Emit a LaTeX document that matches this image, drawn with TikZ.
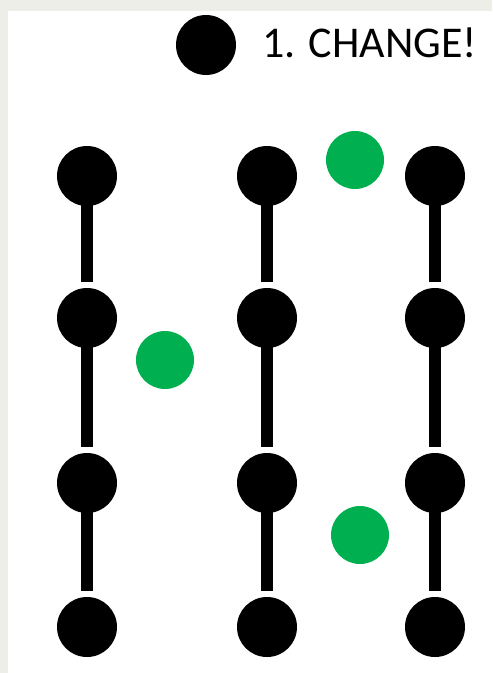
\documentclass[tikz,border=0pt]{standalone}
\usepackage{fontspec}
\setmainfont{Carlito}
\begin{document}
\begin{tikzpicture}[
  x=0.03cm,y=-0.03cm,
  dot/.style={circle,fill=black,inner sep=0pt,outer sep=0pt,minimum size=1.8cm},
  mover/.style={dot,fill=changegreen,minimum size=1.74cm},
  link/.style={line width=0.36cm,black,shorten >=0.18cm}
]
  \definecolor{changegreen}{RGB}{0,176,80}
  \definecolor{frame}{RGB}{238,238,233}
  \fill[frame] (0,0) rectangle (492,673);
  \fill[white] (8,11) rectangle (492,673);

  % legend
  \node[dot] (key) at (206,45) {};
  \node[anchor=west,inner sep=0pt,font=\fontsize{37.5}{40}\selectfont] (keytext) at (262,43) {1. CHANGE!};

  % columns of dots
  \foreach \c/\x in {a/87,b/267,c/435}{
    \node[dot] (\c1) at (\x,176) {};
    \node[dot] (\c2) at (\x,318) {};
    \node[dot] (\c3) at (\x,483) {};
    \node[dot] (\c4) at (\x,627) {};
    \draw[link] (\c1.center) -- (\c2.north);
    \draw[link] (\c2.center) -- (\c3.north);
    \draw[link] (\c3.center) -- (\c4.north);
  }

  % green dots
  \node[mover] (g1) at (165,360) {};
  \node[mover] (g2) at (355,160) {};
  \node[mover] (g3) at (360,535) {};
\end{tikzpicture}
\end{document}
